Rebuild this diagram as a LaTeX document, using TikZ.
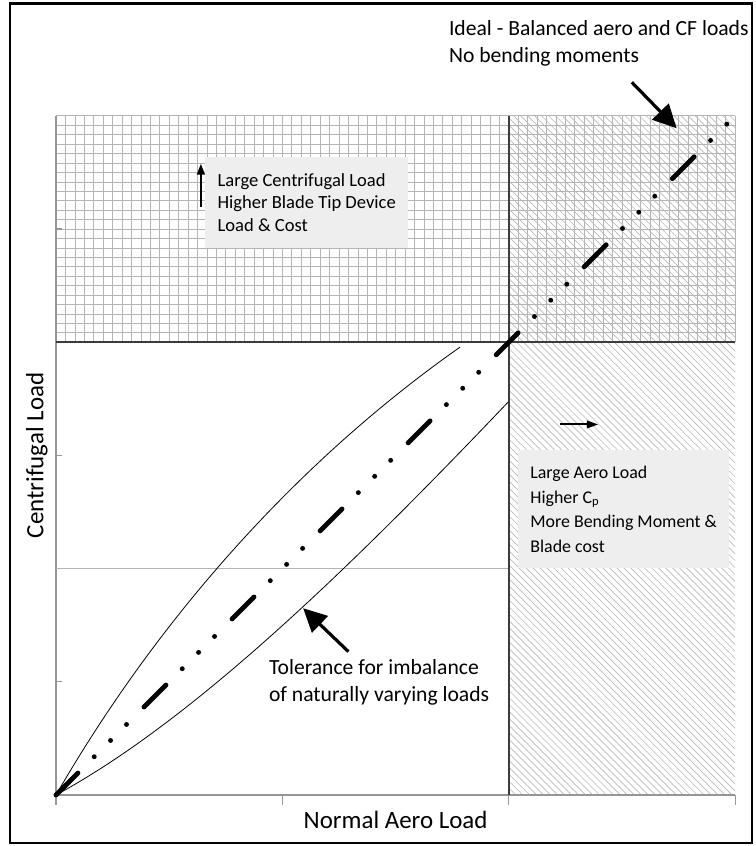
\documentclass[tikz,border=0pt]{standalone}
\usepackage{fontspec}
\setmainfont{Carlito}
\usetikzlibrary{arrows.meta}
\definecolor{boxgray}{RGB}{238,238,238}
\definecolor{gridgray}{RGB}{180,180,180}
\definecolor{hatchgray}{RGB}{185,185,185}
\definecolor{axisgray}{RGB}{150,150,150}
\definecolor{sepgray}{RGB}{60,60,60}
\tikzset{
  infobox/.style={fill=boxgray, align=left, inner sep=0pt},
  bigarrow/.style={line width=2.4pt, -{Triangle[length=0.62cm,width=0.6cm]}},
  smallarrow/.style={line width=2pt, -{Triangle[length=0.3cm,width=0.2cm]}},
  notetext/.style={anchor=north west, align=left, inner sep=0pt, font=\fontsize{16.3}{20.3}\selectfont},
  axislabel/.style={anchor=base, inner sep=0pt, font=\fontsize{18.8}{22}\selectfont}
}

\begin{document}
\begin{tikzpicture}
\useasboundingbox (-1.484,-1.352) rectangle (18.55,21.07);
\draw[line width=1.9pt] (-1.22,-1.27) rectangle (18.44,20.98);

\draw[gridgray, line width=0.5pt, step=0.25] (0,12) grid (18,18);
\begin{scope}
\clip (12,0) rectangle (18,18);
\foreach \c in {12,12.185,...,36.1}
  \draw[hatchgray, line width=0.5pt] (\c-18,18) -- (\c,0);
\end{scope}

\draw[axisgray, line width=0.8pt] (0,0) -- (18,0);
\draw[axisgray, line width=0.8pt] (0,0) -- (0,18);
\draw[axisgray, line width=0.8pt] (0,0) -- (0,-0.27);
\draw[axisgray, line width=0.8pt] (6,0) -- (6,-0.27);
\draw[axisgray, line width=0.8pt] (12,0) -- (12,-0.27);
\draw[axisgray, line width=0.8pt] (18,0) -- (18,-0.27);
\draw[axisgray, line width=0.8pt] (0,3) -- (0.15,3);
\draw[axisgray, line width=0.8pt] (0,9) -- (0.15,9);
\draw[axisgray, line width=0.8pt] (0,15) -- (0.15,15);
\draw[gridgray, line width=0.6pt] (0,6) -- (12,6);
\draw[sepgray, line width=1.1pt] (0,12) -- (18,12);
\draw[sepgray, line width=1.1pt] (12,0) -- (12,18);

\node[infobox, font=\fontsize{14}{16.9}\selectfont, minimum width=5.39cm, minimum height=2.39cm] (cfbox) at (6.645,15.705) {Large Centrifugal Load\\Higher Blade Tip Device\\Load \& Cost};
\node[infobox, font=\fontsize{13.5}{18.5}\selectfont, minimum width=5.59cm, minimum height=3.13cm] (aerobox) at (15.045,7.575) {Large Aero Load\\Higher C\textsubscript{p}\\More Bending Moment \&\\Blade cost};

\coordinate (origin) at (0,0);
\coordinate (ideal) at (18,18);
\coordinate (uppertol) at (10.71,11.87);
\coordinate (lowertol) at (11.98,10.41);
\draw[line width=0.6pt] (origin) .. controls (3,5.2) and (6.9,9.2) .. (uppertol);
\draw[line width=0.6pt] (origin) .. controls (3.5,1.9) and (7.5,5.7) .. (lowertol);
\draw[line width=3.7pt, line cap=round, dash pattern=on 0.82cm off 0.613cm on 0cm off 0.611cm on 0cm off 0.599cm on 0cm off 0.657cm] (origin) -- (ideal);

\coordinate (idealtail) at (15.26,18.89);
\coordinate (idealtip) at (16.45,17.67);
\draw[bigarrow] (idealtail) -- (idealtip);
\coordinate (toltail) at (7.75,3.80);
\coordinate (toltip) at (6.55,4.95);
\draw[bigarrow] (toltail) -- (toltip);
\coordinate (cftail) at (3.84,15.59);
\coordinate (cftip) at (3.84,16.74);
\draw[smallarrow] (cftail) -- (cftip);
\coordinate (aerotail) at (13.36,9.82);
\coordinate (aerotip) at (14.37,9.82);
\draw[smallarrow, line width=1.5pt] (aerotail) -- (aerotip);

\node[notetext] (idealtext) at (10.41,20.54) {Ideal - Balanced aero and CF loads\\No bending moments};
\node[notetext] (toltext) at (5.64,3.60) {Tolerance for imbalance\\of naturally varying loads};
\node[axislabel] (xlabel) at (9,-0.88) {Normal Aero Load};
\node[axislabel, rotate=90] (ylabel) at (-0.336,9) {Centrifugal Load};
\end{tikzpicture}
\end{document}
